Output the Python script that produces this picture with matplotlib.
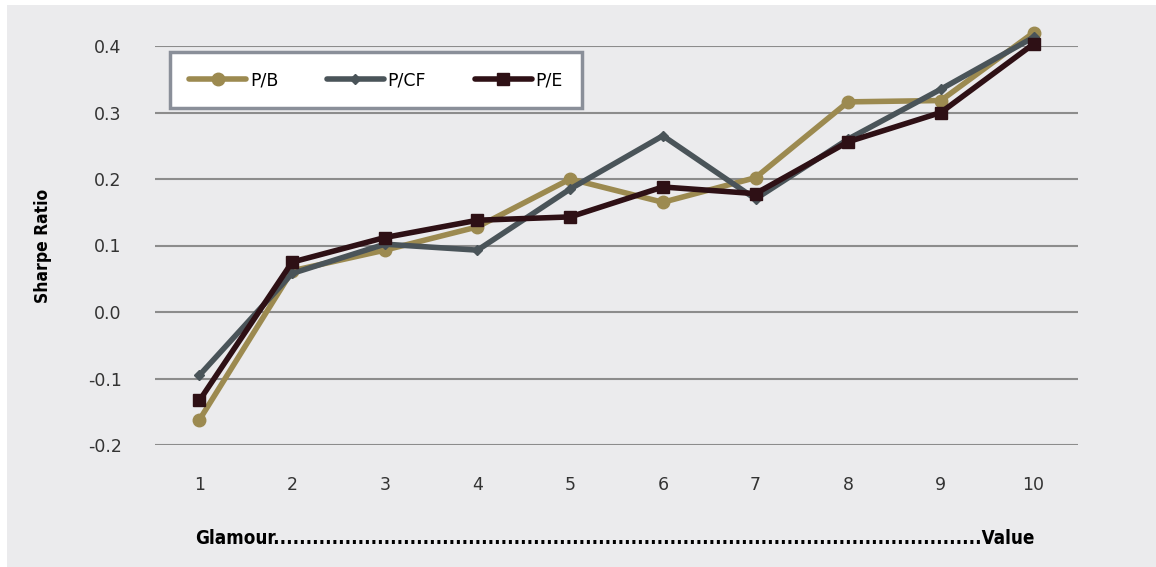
import matplotlib
matplotlib.use("Agg")
import matplotlib.pyplot as plt
from matplotlib.patches import Rectangle

deciles = [1, 2, 3, 4, 5, 6, 7, 8, 9, 10]
pb = [-0.162, 0.062, 0.093, 0.128, 0.200, 0.165, 0.202, 0.316, 0.318, 0.420]
pcf = [-0.095, 0.058, 0.102, 0.093, 0.185, 0.265, 0.170, 0.260, 0.335, 0.413]
pe = [-0.133, 0.075, 0.112, 0.138, 0.143, 0.188, 0.178, 0.256, 0.300, 0.403]
yticks = [-0.2, -0.1, 0.0, 0.1, 0.2, 0.3, 0.4]

bg = "#ebebed"
fig = plt.figure(figsize=(11.56, 5.67), dpi=100, facecolor="white")
fig.patches.append(Rectangle((7 / 1156, 0), 1, 1 - 5 / 567, transform=fig.transFigure,
                             facecolor=bg, edgecolor="none", zorder=-10))

ax = fig.add_axes([155 / 1156, 1 - 445 / 567, 923 / 1156, 399 / 567])
ax.set_zorder(2)
ax.set_facecolor("none")

ax.plot(deciles, pb, color="#9c8a50", lw=4, marker="o", ms=9, label="P/B",
        clip_on=False, zorder=3, solid_capstyle="round")
ax.plot(deciles, pcf, color="#4a5459", lw=4, marker="D", ms=5, label="P/CF",
        clip_on=False, zorder=4, solid_capstyle="round")
ax.plot(deciles, pe, color="#2e1015", lw=4, marker="s", ms=9, label="P/E",
        clip_on=False, zorder=5, solid_capstyle="round")

ax.set_xlim(0.52, 10.48)
ax.set_ylim(-0.2, 0.4)
ax.set_xticks(deciles)
ax.set_yticks(yticks)
ax.set_yticklabels([f"{v:.1f}" for v in yticks])
ax.grid(axis="y", color="#8c8c8c", lw=1.5)
ax.set_axisbelow(True)
for s in ax.spines.values():
    s.set_visible(False)
ax.tick_params(length=0, labelsize=12.5, labelcolor="#333333")
ax.tick_params(axis="y", pad=24)
ax.tick_params(axis="x", pad=22)

ax.set_ylabel("Sharpe Ratio", fontsize=12.5, fontweight="bold", fontstretch="condensed",
              labelpad=26)

fig.text(195 / 1156, 1 - 538 / 567, "Glamour" + "." * 109 + "Value", fontsize=13.5,
         fontweight="bold", fontstretch="condensed", va="center", ha="left")

leg = ax.legend(loc="upper left", bbox_to_anchor=(15 / 923, 1 - 6 / 399), ncol=3,
                frameon=True, fancybox=False, fontsize=12.5, handlelength=3.3,
                columnspacing=2.8, borderpad=1.1, handletextpad=0.2, borderaxespad=0)
leg.get_frame().set_edgecolor("#8a8f99")
leg.get_frame().set_linewidth(2.5)
leg.get_frame().set_facecolor("white")
leg.get_frame().set_alpha(1)

fig.savefig("out.png", dpi=100)
